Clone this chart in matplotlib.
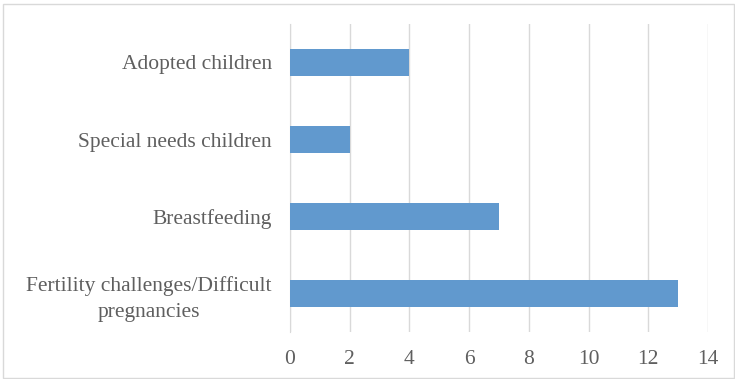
import matplotlib.pyplot as plt
from matplotlib.patches import Rectangle

categories = ["Fertility challenges/Difficult\npregnancies", "Breastfeeding",
              "Special needs children", "Adopted children"]
values = [13, 7, 2, 4]
xticks = [0, 2, 4, 6, 8, 10, 12, 14]

plt.rcParams['font.family'] = ['Liberation Serif', 'DejaVu Serif']

fig = plt.figure(figsize=(7.35, 3.79), dpi=100)
ax = fig.add_axes([290 / 735, 1 - 332 / 379, 418 / 735, 308 / 379])

ax.barh(range(len(values)), values, height=0.36, color='#6199CE', zorder=3)

ax.set_xlim(0, 14)
ax.set_ylim(-0.5, len(values) - 0.5)
ax.set_xticks(xticks)
ax.set_yticks(range(len(categories)))
ax.set_yticklabels(categories, fontsize=15.5, color='#5F5F5F', ha='right',
                   multialignment='center', linespacing=1.45)
ax.tick_params(axis='y', length=0, pad=13)
ax.tick_params(axis='x', length=0, pad=13, labelsize=15.5, labelcolor='#5F5F5F')

ax.grid(axis='x', color='#D9D9D9', linewidth=1, zorder=0)
for s in ['top', 'right', 'bottom']:
    ax.spines[s].set_visible(False)
ax.spines['left'].set_color('#D9D9D9')

# chart border
fig.patches.append(Rectangle((3 / 735, 0.002), 1 - 4 / 735, 1 - 5 / 379,
                             transform=fig.transFigure, fill=False,
                             edgecolor='#D9D9D9', linewidth=1))

fig.savefig('out.png', dpi=100)
